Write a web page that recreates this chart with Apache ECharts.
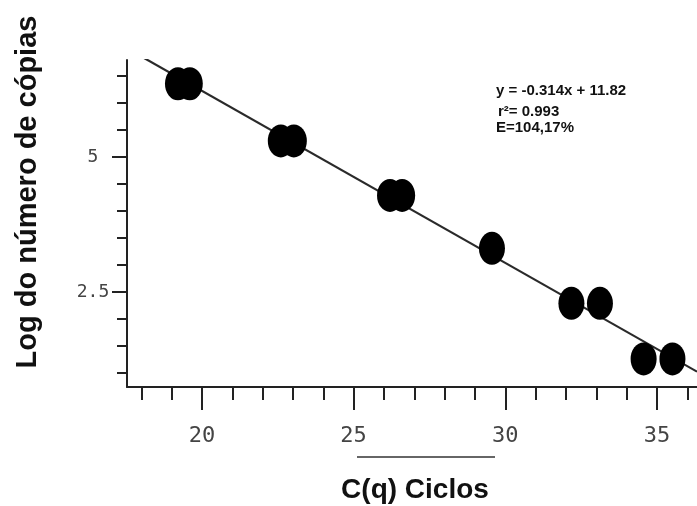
<!DOCTYPE html>
<html>
<head>
<meta charset="utf-8">
<script src="https://cdn.jsdelivr.net/npm/echarts@6/dist/echarts.min.js"></script>
<style>
  html, body { margin: 0; padding: 0; background: #fff; }
  #chart { width: 697px; height: 506px; }
</style>
</head>
<body>
<div id="chart"></div>
<script>
// Standard curve: Cq cycles vs. log copy number
const ctValues  = [19.21, 19.60, 22.60, 23.03, 26.20, 26.60, 29.56, 32.18, 33.12, 34.56, 35.51];
const logCopies = [6.36, 6.36, 5.30, 5.30, 4.29, 4.29, 3.31, 2.29, 2.29, 1.26, 1.26];

// Axis ranges and ticks
const xRange = [17.53, 36.32];
const yRange = [0.74, 6.80];
const xMinorTicks = [18, 19, 20, 21, 22, 23, 24, 25, 26, 27, 28, 29, 30, 31, 32, 33, 34, 35, 36];
const xMajorTicks = [20, 25, 30, 35];
const yMinorTicks = [1, 1.5, 2, 2.5, 3, 3.5, 4, 4.5, 5, 5.5, 6, 6.5];
const yMajorTicks = [2.5, 5];

// Fit annotation lines
const fitText = ['y = -0.314x + 11.82', 'r\u00b2= 0.993', 'E=104,17%'];

// Least-squares trend line through the plotted points
function leastSquares(xs, ys) {
  const n = xs.length;
  const mx = xs.reduce((a, b) => a + b, 0) / n;
  const my = ys.reduce((a, b) => a + b, 0) / n;
  let sxy = 0, sxx = 0;
  for (let i = 0; i < n; i++) {
    sxy += (xs[i] - mx) * (ys[i] - my);
    sxx += (xs[i] - mx) * (xs[i] - mx);
  }
  const slope = sxy / sxx;
  return { slope, intercept: my - slope * mx };
}
const fit = leastSquares(ctValues, logCopies);
const trend = xRange.map(x => [x, fit.intercept + fit.slope * x]);

const ink = '#222';
const axisBase = {
  type: 'value',
  splitLine: { show: false },
  scale: true
};

const chart = echarts.init(document.getElementById('chart'), null, { renderer: 'canvas' });
chart.setOption({
  animation: false,
  backgroundColor: '#fff',
  grid: { left: 127, top: 60, right: 0, bottom: 119, containLabel: false },
  xAxis: [
    Object.assign({}, axisBase, {
      position: 'bottom', min: xRange[0], max: xRange[1],
      axisLine: { show: true, onZero: false, lineStyle: { color: ink, width: 2 } },
      axisTick: { show: true, customValues: xMinorTicks, length: 13, lineStyle: { color: ink, width: 2 } },
      axisLabel: { show: false }
    }),
    Object.assign({}, axisBase, {
      position: 'bottom', min: xRange[0], max: xRange[1],
      axisLine: { show: false, onZero: false },
      axisTick: { show: true, customValues: xMajorTicks, length: 23, lineStyle: { color: ink, width: 2 } },
      axisLabel: {
        show: true, customValues: xMajorTicks, margin: 38,
        fontFamily: 'DejaVu Sans Mono', fontSize: 22, color: '#444'
      }
    })
  ],
  yAxis: [
    Object.assign({}, axisBase, {
      position: 'left', min: yRange[0], max: yRange[1],
      axisLine: { show: true, onZero: false, lineStyle: { color: ink, width: 2 } },
      axisTick: { show: true, customValues: yMinorTicks, length: 10, lineStyle: { color: ink, width: 2 } },
      axisLabel: { show: false }
    }),
    Object.assign({}, axisBase, {
      position: 'left', min: yRange[0], max: yRange[1],
      axisLine: { show: false, onZero: false },
      axisTick: { show: true, customValues: yMajorTicks, length: 15, lineStyle: { color: ink, width: 2 } },
      axisLabel: {
        show: true, customValues: yMajorTicks, margin: 34, align: 'center',
        fontFamily: 'DejaVu Sans Mono', fontSize: 18, color: '#444'
      }
    })
  ],
  series: [
    {
      type: 'line',
      data: trend,
      xAxisIndex: 0, yAxisIndex: 0,
      showSymbol: false,
      clip: true,
      lineStyle: { color: '#2a2a2a', width: 2.2 },
      z: 2
    },
    {
      type: 'scatter',
      data: ctValues.map((x, i) => [x, logCopies[i]]),
      xAxisIndex: 0, yAxisIndex: 0,
      symbol: 'circle',
      symbolSize: [26, 33],
      itemStyle: { color: '#000', opacity: 1 },
      z: 3
    }
  ],
  graphic: [
    {
      type: 'text', x: 28, y: 192, rotation: Math.PI / 2,
      style: {
        text: 'Log do número de cópias', fill: '#111',
        font: 'bold 29px "Liberation Sans", Arial, sans-serif',
        align: 'center', verticalAlign: 'middle'
      }
    },
    {
      type: 'text', x: 415, y: 490,
      style: {
        text: 'C(q) Ciclos', fill: '#111',
        font: 'bold 28px "Liberation Sans", Arial, sans-serif',
        align: 'center', verticalAlign: 'middle'
      }
    },
    {
      type: 'line',
      shape: { x1: 357, y1: 457, x2: 495, y2: 457 },
      style: { stroke: '#333', lineWidth: 1.5 }
    },
    {
      type: 'text', x: 496, y: 91,
      style: { text: fitText[0], fill: '#111', font: 'bold 15px "Liberation Sans", Arial, sans-serif', verticalAlign: 'middle' }
    },
    {
      type: 'text', x: 498, y: 112,
      style: { text: fitText[1], fill: '#111', font: 'bold 15px "Liberation Sans", Arial, sans-serif', verticalAlign: 'middle' }
    },
    {
      type: 'text', x: 496, y: 128,
      style: { text: fitText[2], fill: '#111', font: 'bold 15px "Liberation Sans", Arial, sans-serif', verticalAlign: 'middle' }
    }
  ]
});
</script>
</body>
</html>
